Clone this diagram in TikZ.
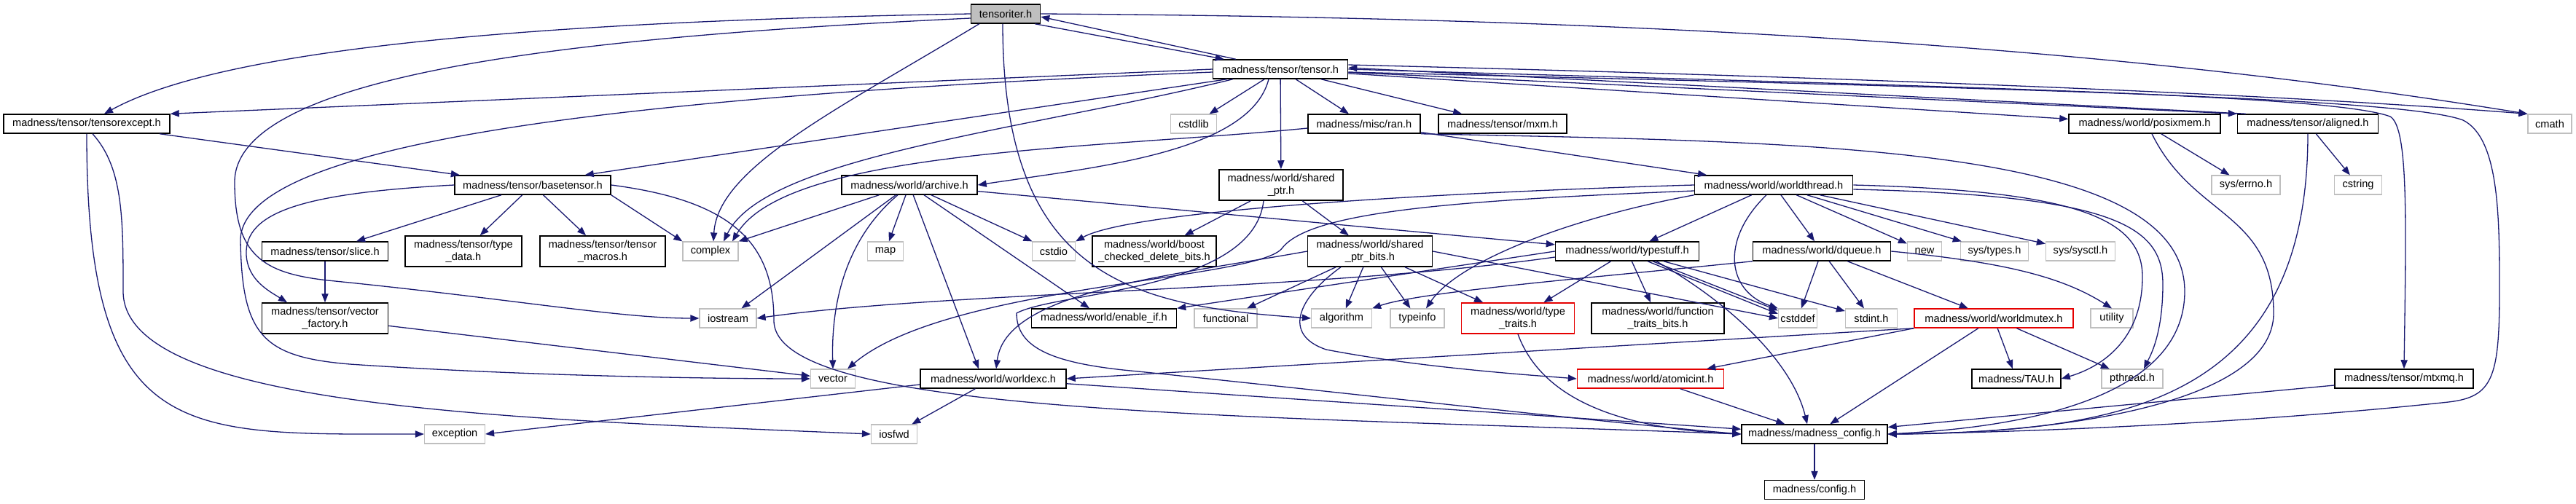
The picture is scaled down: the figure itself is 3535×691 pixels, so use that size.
\documentclass[tikz,border=0pt]{standalone}
\usepackage{fontspec}
\setmainfont{Liberation Sans}
\usetikzlibrary{positioning, arrows.meta}
\definecolor{edgeblue}{HTML}{191970}
\tikzset{>={Triangle[length=6pt,width=4.6pt]}}

\begin{document}
\begin{tikzpicture}[
    x=0.5pt, y=-0.5pt,
    font=\fontsize{7.3}{8.4}\selectfont,
    hdr/.style={draw=black, fill=white, line width=0.75pt, align=center,
                inner sep=1pt, minimum height=13pt},
    twoline/.style={minimum height=21pt},
    sys/.style={hdr, draw=black!25, line width=0.6pt},
    bad/.style={hdr, draw=red!90!black},
    root/.style={hdr, fill=black!25},
    incl/.style={->, draw=edgeblue, line width=0.65pt},
  ]
  \useasboundingbox (0,0) rectangle (3535,691);

  % row 0-1
  \node[root, minimum width=47.5pt] (ti) at (1380,19) {tensoriter.h};
  \node[hdr, minimum width=92.5pt] (tns) at (1757,95) {madness/tensor/tensor.h};
  \node[hdr, minimum width=114pt] (texc) at (119,170) {madness/tensor/tensorexcept.h};
  \node[sys, minimum width=31.5pt] (cstdlib) at (1638,170) {cstdlib};
  \node[hdr, minimum width=77pt] (ran) at (1872,170) {madness/misc/ran.h};
  \node[hdr, minimum width=88pt] (mxm) at (2062,170) {madness/tensor/mxm.h};
  \node[hdr, minimum width=104pt] (pmem) at (2943,170) {madness/world/posixmem.h};
  \node[hdr, minimum width=96.5pt] (algn) at (3167,170) {madness/tensor/aligned.h};
  \node[sys, minimum width=30pt] (cmath) at (3499,170) {cmath};
  % row 2
  \node[hdr, minimum width=107pt] (btens) at (731,254) {madness/tensor/basetensor.h};
  \node[hdr, minimum width=93pt] (arch) at (1248,254) {madness/world/archive.h};
  \node[hdr, twoline, minimum width=85pt] (sptr) at (1758,254) {madness/world/shared\\\_ptr.h};
  \node[hdr, minimum width=108.5pt] (wthr) at (2434,254) {madness/world/worldthread.h};
  \node[sys, minimum width=47pt] (errno) at (3082,254) {sys/errno.h};
  \node[sys, minimum width=32.5pt] (cstring) at (3236,254) {cstring};
  % row 3
  \node[hdr, minimum width=86.5pt] (slice) at (446,345) {madness/tensor/slice.h};
  \node[hdr, twoline, minimum width=80pt] (tdata) at (636,345) {madness/tensor/type\\\_data.h};
  \node[hdr, twoline, minimum width=86pt] (tmac) at (827,345) {madness/tensor/tensor\\\_macros.h};
  \node[sys, minimum width=38pt] (complex) at (975,345) {complex};
  \node[sys, minimum width=24.5pt] (map) at (1215,345) {map};
  \node[sys, minimum width=29.5pt] (cstdio) at (1446,345) {cstdio};
  \node[hdr, twoline, minimum width=85pt] (bcdel) at (1584,345) {madness/world/boost\\\_checked\_delete\_bits.h};
  \node[hdr, twoline, minimum width=85.5pt] (sbits) at (1880,345) {madness/world/shared\\\_ptr\_bits.h};
  \node[hdr, minimum width=98.5pt] (tstuff) at (2233,345) {madness/world/typestuff.h};
  \node[hdr, minimum width=94.5pt] (dq) at (2500,345) {madness/world/dqueue.h};
  \node[sys, minimum width=23.5pt] (new) at (2641,345) {new};
  \node[sys, minimum width=46.5pt] (stypes) at (2737,345) {sys/types.h};
  \node[sys, minimum width=47.5pt] (sctl) at (2855,345) {sys/sysctl.h};
  % row 4
  \node[hdr, twoline, minimum width=86.5pt] (vfac) at (446,437) {madness/tensor/vector\\\_factory.h};
  \node[sys, minimum width=39pt] (iostr) at (999,437) {iostream};
  \node[hdr, minimum width=99.5pt] (enif) at (1515,437) {madness/world/enable\_if.h};
  \node[sys, minimum width=43pt] (func) at (1682,437) {functional};
  \node[sys, minimum width=41.5pt] (algo) at (1841,437) {algorithm};
  \node[sys, minimum width=37pt] (tinfo) at (1945,437) {typeinfo};
  \node[bad, twoline, minimum width=77.5pt] (ttr) at (2083,437) {madness/world/type\\\_traits.h};
  \node[hdr, twoline, minimum width=91pt] (ftr) at (2275,437) {madness/world/function\\\_traits\_bits.h};
  \node[sys, minimum width=26.5pt] (cstddef) at (2467,437) {cstddef};
  \node[sys, minimum width=35.5pt] (stdint) at (2568,437) {stdint.h};
  \node[bad, minimum width=109pt] (wmtx) at (2736,437) {madness/world/worldmutex.h};
  \node[sys, minimum width=29pt] (util) at (2898,437) {utility};
  % row 5-7
  \node[sys, minimum width=30.5pt] (vec) at (1143,520) {vector};
  \node[hdr, minimum width=100pt] (wexc) at (1363,520) {madness/world/worldexc.h};
  \node[bad, minimum width=100.5pt] (atom) at (2265,520) {madness/world/atomicint.h};
  \node[hdr, minimum width=61pt] (tau) at (2767,520) {madness/TAU.h};
  \node[sys, minimum width=42pt] (pthr) at (2926,520) {pthread.h};
  \node[hdr, minimum width=95pt] (mtxmq) at (3299,520) {madness/tensor/mtxmq.h};
  \node[sys, minimum width=41.5pt] (exc) at (624,596) {exception};
  \node[sys, minimum width=31.5pt] (iosfwd) at (1227,596) {iosfwd};
  \node[hdr, minimum width=100pt] (mcfg) at (2490,596) {madness/madness\_config.h};
  \node[hdr, minimum width=68.5pt, below=24.5pt of mcfg] (cfg) {madness/config.h};

  % tensoriter.h
  \draw[incl] (ti.west) .. controls (700,30) and (300,70) .. ([xshift=12pt]texc.north);
  \draw[incl] ([yshift=-3pt]ti.west) .. controls (800,50) and (322,100) .. (322,250)
     .. controls (322,350) and (360,375) .. (450,385) .. controls (700,410) and (850,437) .. (iostr.west);
  \draw[incl] ([xshift=6pt]ti.south west) .. controls (1150,150) and (985,230) .. ([xshift=2pt]complex.north);
  \draw[incl] ([xshift=-2pt]ti.south) .. controls (1376,380) and (1550,420) .. (algo.west);
  \draw[incl] (ti.east) .. controls (2400,25) and (3000,80) .. (cmath.north west);
  \draw[incl] ([xshift=-4pt]ti.south east) -- ([xshift=8pt]tns.north west);

  % tensor.h
  \draw[incl] ([xshift=16pt]tns.north west) -- ([yshift=-2pt]ti.east);
  \draw[incl] (tns.west) -- (texc.north east);
  \draw[incl] ([yshift=-2pt]tns.west) .. controls (900,130) and (330,190) .. (330,330)
     .. controls (332,460) and (360,490) .. (480,500) .. controls (700,515) and (950,520) .. (vec.west);
  \draw[incl] ([xshift=10pt]tns.south west) -- ([xshift=-18pt]btens.north east);
  \draw[incl] ([xshift=14pt]tns.south west) .. controls (1400,180) and (1050,215) .. ([xshift=9pt]complex.north);
  \draw[incl] (tns) -- (cstdlib);
  \draw[incl] ([xshift=-8pt]tns.south) .. controls (1715,210) and (1500,230) .. (arch.east);
  \draw[incl] (tns) -- (sptr);
  \draw[incl] (tns) -- (ran);
  \draw[incl] (tns) -- (mxm);
  \draw[incl] (tns) -- (pmem);
  \draw[incl] (tns) -- (algn.north west);
  \draw[incl] ([yshift=3pt]tns.east) .. controls (2700,110) and (3200,135) .. (cmath.north west);
  \draw[incl] (tns.east) .. controls (2700,120) and (3200,130) .. (3280,160)
     .. controls (3305,175) and (3302,300) .. (mtxmq.north);
  \draw[incl] ([yshift=-2pt]tns.east) .. controls (2800,122) and (3300,135) .. (3380,165)
     .. controls (3430,190) and (3430,300) .. (3430,400)
     .. controls (3430,520) and (3420,545) .. (3360,552) .. controls (3100,580) and (2800,593) .. (mcfg.east);
  \draw[incl] ([xshift=6pt]algn.north west) -- ([yshift=1pt]tns.east);

  % tensorexcept.h, basetensor.h
  \draw[incl] (texc) -- (btens);
  \draw[incl] (texc.south) .. controls (119,610) and (250,596) .. (exc.west);
  \draw[incl] ([xshift=4pt]texc.south) .. controls (169,230) and (169,300) .. (169,400)
     .. controls (169,560) and (700,575) .. (iosfwd.west);
  \draw[incl] (btens) -- (slice);
  \draw[incl] (btens) -- (tdata);
  \draw[incl] (btens) -- (tmac);
  \draw[incl] (btens.south east) -- (complex.north west);
  \draw[incl] (btens.west) .. controls (420,265) and (335,290) .. (338,350)
     .. controls (340,385) and (370,400) .. ([xshift=-26pt]vfac.north);
  \draw[incl] (btens.east) .. controls (1000,275) and (1062,330) .. (1062,440)
     .. controls (1062,570) and (1700,570) .. (mcfg.west);
  \draw[incl] (slice) -- (vfac);
  \draw[incl] (vfac) -- (vec);

  % misc/ran.h
  \draw[incl] ([yshift=-3pt]ran.west) .. controls (1500,205) and (1080,205) .. ([xshift=15pt]complex.north);
  \draw[incl] (ran) -- (wthr);
  \draw[incl] (ran.south east) .. controls (2500,195) and (2998,200) .. (2998,400)
     .. controls (2998,570) and (2700,590) .. (mcfg.east);

  % archive.h
  \draw[incl] (arch) -- (complex.north east);
  \draw[incl] (arch) -- (iostr);
  \draw[incl] ([xshift=-8pt]arch.south) .. controls (1170,320) and (1140,400) .. (vec.north);
  \draw[incl] (arch) -- (map);
  \draw[incl] (arch) -- ([xshift=-10pt]wexc.north);
  \draw[incl] (arch) -- (enif);
  \draw[incl] (arch) -- (cstdio);
  \draw[incl] (arch) -- (tstuff);

  % shared_ptr.h, shared_ptr_bits.h
  \draw[incl] (sptr) -- (bcdel);
  \draw[incl] (sptr) -- (sbits);
  \draw[incl] ([xshift=-12pt]sptr.south) .. controls (1720,400) and (1450,400) .. (1395,430)
     .. controls (1395,480) and (1450,500) .. (1562,510) .. controls (1900,545) and (2200,580) .. (mcfg.west);
  \draw[incl] (sbits) -- (algo);
  \draw[incl] (sbits) -- (tinfo);
  \draw[incl] (sbits) -- (ttr);
  \draw[incl] (sbits) -- (func);
  \draw[incl] (sbits.east) -- (cstddef.west);
  \draw[incl] ([xshift=-20pt]sbits.south) .. controls (1780,410) and (1760,460) .. (1820,480)
     .. controls (1950,505) and (2100,515) .. (atom.west);
  \draw[incl] (sbits.west) .. controls (1600,380) and (1380,400) .. ([xshift=2pt]wexc.north);

  % worldthread.h
  \draw[incl] (wthr.west) .. controls (1950,265) and (1550,290) .. (cstdio.north east);
  \draw[incl] ([yshift=-4pt]wthr.west) .. controls (2000,275) and (1800,290) .. (1760,340)
     .. controls (1730,385) and (1300,390) .. ([xshift=10pt]vec.north);
  \draw[incl] (wthr) -- (tstuff);
  \draw[incl] (wthr) -- (dq);
  \draw[incl] (wthr) -- (new);
  \draw[incl] (wthr) -- (stypes);
  \draw[incl] (wthr) -- (sctl);
  \draw[incl] ([xshift=-5pt]wthr.south) .. controls (2360,330) and (2370,400) .. (cstddef.north west);
  \draw[incl] (wthr.south west) .. controls (2150,300) and (2000,360) .. ([xshift=6pt]tinfo.north);
  \draw[incl] (wthr.east) .. controls (2850,262) and (2940,300) .. (2940,380)
     .. controls (2940,470) and (2880,505) .. (tau.east);
  \draw[incl] ([yshift=-3pt]wthr.east) .. controls (2900,268) and (2968,310) .. (2968,390)
     .. controls (2968,460) and (2950,490) .. ([xshift=8pt]pthr.north);

  % typestuff.h, dqueue.h
  \draw[incl] (tstuff) -- (ttr);
  \draw[incl] (tstuff) -- (ftr);
  \draw[incl] (tstuff) -- (stdint);
  \draw[incl] (tstuff) -- (cstddef);
  \draw[incl] ([xshift=14pt]tstuff.south) -- ([yshift=3pt]cstddef.west);
  \draw[incl] ([xshift=20pt]tstuff.south) .. controls (2380,420) and (2460,500) .. ([xshift=-5pt]mcfg.north);
  \draw[incl] (tstuff.west) -- (enif.north east);
  \draw[incl] ([yshift=-4pt]tstuff.west) .. controls (1800,400) and (1300,400) .. (iostr.east);
  \draw[incl] (dq) -- (cstddef);
  \draw[incl] (dq) -- (stdint);
  \draw[incl] (dq) -- (wmtx);
  \draw[incl] (dq.east) .. controls (2750,360) and (2830,380) .. (util.north);
  \draw[incl] (dq.south west) .. controls (2200,380) and (1950,400) .. (algo.north east);

  % worldmutex.h and the rest
  \draw[incl] (wmtx.south west) -- (wexc.east);
  \draw[incl] (wmtx.south west) -- ([xshift=-12pt]atom.north east);
  \draw[incl] (wmtx) -- (tau);
  \draw[incl] (wmtx) -- (pthr);
  \draw[incl] (wmtx) -- (mcfg);
  \draw[incl] (ttr.south) .. controls (2120,560) and (2250,590) .. (mcfg.west);
  \draw[incl] (atom) -- (mcfg);
  \draw[incl] (wexc) -- (iosfwd);
  \draw[incl] ([yshift=-4pt]wexc.west) -- (exc.east);
  \draw[incl] (wexc) -- (mcfg);
  \draw[incl] (pmem) -- (errno);
  \draw[incl] ([xshift=5pt]pmem.south) .. controls (3010,300) and (3120,290) .. (3120,430)
     .. controls (3120,560) and (2800,596) .. (mcfg.east);
  \draw[incl] (algn) -- (cstring);
  \draw[incl] (algn.south) .. controls (3167,560) and (2900,592) .. (mcfg.east);
  \draw[incl] (mtxmq) -- (mcfg);
  \draw[incl] (mcfg) -- (cfg);
\end{tikzpicture}
\end{document}
